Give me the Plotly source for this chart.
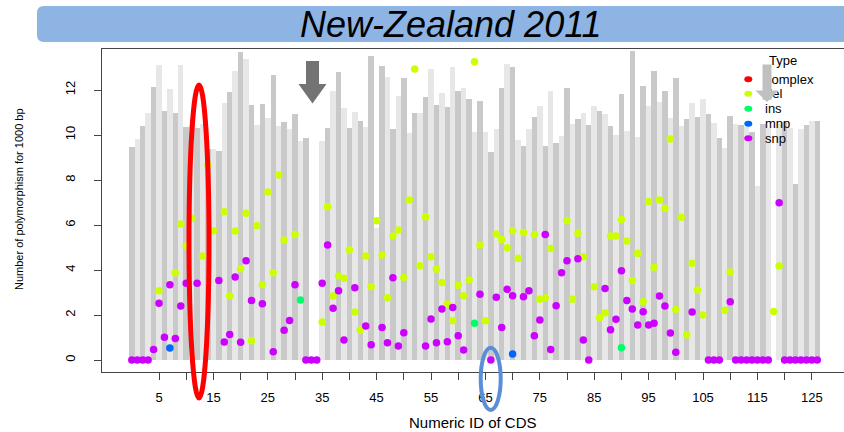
import plotly.graph_objects as go

# ---------------- data ----------------
bar_height = [
    9.45, 9.82, 10.41, 11.0, 12.15, 13.1, 11.07, 12.03, 10.96, 13.1,
    10.37, 10.45, 10.33, 10.5, 9.4, 9.36, 9.29, 11.44, 11.93, 12.84,
    13.67, 13.36, 11.32, 10.44, 11.38, 10.74, 12.65, 10.4, 10.59, 10.25,
    10.92, 9.73, 9.85, 0, 0, 9.75, 10.3, 11.97, 12.79, 11.19,
    10.3, 11.01, 10.64, 10.34, 13.52, 5.87, 13.08, 12.59, 10.25, 11.75,
    12.52, 10.07, 10.99, 10.99, 11.7, 12.92, 11.33, 11.85, 11.26, 13.04,
    11.96, 12.07, 11.59, 10.15, 11.51, 10.15, 9.26, 10.27, 12.1, 13.16,
    13.01, 9.8, 9.5, 10.27, 10.79, 11.3, 9.5, 11.96, 9.66, 9.97,
    12.07, 10.5, 10.72, 10.99, 10.44, 11.29, 11.07, 10.93, 10.4, 9.99,
    11.82, 10.19, 13.73, 9.9, 12.18, 11.3, 12.86, 11.48, 11.97, 10.77,
    12.52, 10.4, 10.71, 11.44, 10.79, 11.59, 10.93, 10.55, 9.85, 9.41,
    10.86, 10.49, 10.44, 10.34, 10.15, 7.73, 10.47, 10.3, 0, 10.5,
    10.59, 10.3, 7.82, 10.25, 10.44, 10.62, 10.62,
]
cds_id = list(range(len(bar_height)))

del_x = [5, 8, 9, 10, 11, 13, 14, 15, 17, 18, 19, 20, 21, 22, 23, 24, 25, 26, 27, 28,
         30, 35, 36, 37, 38, 39, 40, 41, 42, 43, 44, 45, 46, 47, 48, 49, 50, 51, 52, 53,
         54, 55, 56, 57, 58, 59, 60, 61, 62, 63, 64, 65, 67, 68, 69, 70, 71, 72, 74, 75,
         76, 77, 80, 81, 82, 83, 85, 86, 87, 88, 89, 90, 91, 92, 93, 94, 95, 96, 97, 98,
         99, 100, 101, 102, 103, 104, 105, 109, 110, 118, 119]
del_y = [3.08, 3.88, 6.04, 5.07, 6.3, 4.62, 8.67, 5.75, 6.59, 2.84, 5.73, 4.06, 6.52, 0.86, 5.97, 3.35, 7.47, 3.88, 8.22, 5.33,
         5.58, 1.69, 6.81, 2.84, 3.73, 3.63, 4.89, 2.13, 1.33, 4.62, 3.26, 6.19, 4.67, 2.77, 5.51, 5.78, 3.67, 7.11, 12.93, 4.19,
         6.37, 4.59, 4.03, 3.44, 2.49, 1.75, 3.32, 2.86, 3.56, 13.26, 5.11, 1.75, 5.6, 5.36, 4.99, 5.75, 4.52, 5.67, 5.58, 2.7,
         2.77, 4.96, 6.19, 2.7, 5.63, 4.59, 3.26, 1.88, 2.1, 5.51, 5.51, 6.25, 5.29, 3.53, 4.74, 2.59, 7.04, 4.12, 7.11, 6.74,
         9.82, 2.25, 6.34, 1.11, 4.3, 3.11, 2.0, 2.21, 3.91, 2.16, 4.18]

snp_x = [0, 1, 2, 3, 4, 5, 6, 7, 8, 9, 10, 12, 16, 17, 18, 19, 20, 21, 22, 24,
         26, 28, 29, 30, 32, 33, 34, 35, 36, 37, 38, 39, 41, 43, 44, 46, 47, 48, 49, 50,
         54, 55, 56, 57, 58, 59, 60, 61, 64, 66, 67, 68, 69, 70, 72, 73, 74, 75, 76, 77,
         78, 79, 80, 82, 83, 84, 87, 88, 89, 90, 91, 92, 93, 94, 95, 96, 97, 98, 99, 100,
         103, 106, 107, 108, 110, 111, 112, 113, 114, 115, 116, 117, 119, 120, 121, 122, 123, 124, 125, 126]
snp_y = [0, 0, 0, 0, 0.47, 2.52, 1.01, 3.35, 0.96, 2.4, 3.41, 3.41, 3.53, 0.8, 1.13, 3.69, 0.79, 4.41, 2.64, 2.5,
         0.37, 1.32, 1.76, 3.35, 0, 0, 0, 3.41, 5.11, 2.3, 3.08, 0.89, 3.21, 1.51, 0.68, 1.44, 0.77, 3.66, 0.62, 1.21,
         0.62, 1.82, 0.77, 2.27, 0.81, 2.33, 1.08, 0.44, 2.92, 0, 2.79, 1.45, 3.14, 2.86, 2.81, 3.08, 1.08, 1.78, 5.58, 0.47,
         2.41, 3.88, 4.41, 4.5, 0.89, 0, 3.18, 1.35, 1.81, 3.97, 2.64, 2.27, 1.56, 2.15, 1.56, 1.63, 2.84, 2.4, 1.2, 0.34,
         2.13, 0, 0, 0, 2.59, 0, 0, 0, 0, 0, 0, 0, 6.99, 0, 0, 0, 0, 0, 0, 0]

ins_x = [31, 63, 90]
ins_y = [2.67, 1.63, 0.55]

mnp_x = [7, 70]
mnp_y = [0.53, 0.27]

type_names = ["complex", "del", "ins", "mnp", "snp"]
type_colors = ["#FF0000", "#CCFF00", "#00FF66", "#0066FF", "#CC00FF"]

x_tick_vals = list(range(5, 126, 5))
x_tick_text = [str(v) if (v - 5) % 10 == 0 else "" for v in x_tick_vals]
y_tick_vals = [0, 2, 4, 6, 8, 10, 12]

# ---------------- layout helpers (pixel -> paper) ----------------
W, H = 844, 432
L, R, T, B = 102, 844, 49, 372


def px(x):
    return (x - L) / (R - L)


def py(y):
    return (B - y) / (B - T)


FONT = "Liberation Sans, Arial, sans-serif"

fig = go.Figure()

bar_shade = ["#C9C9C9" if i % 2 == 0 else "#E7E7E7" for i in cds_id]
fig.add_trace(go.Bar(x=cds_id, y=bar_height, width=1.0,
                     marker=dict(color=bar_shade, line=dict(width=0)),
                     showlegend=False, hoverinfo="skip"))

for name, xs, ys in [("del", del_x, del_y), ("snp", snp_x, snp_y),
                     ("ins", ins_x, ins_y), ("mnp", mnp_x, mnp_y)]:
    col = type_colors[type_names.index(name)]
    fig.add_trace(go.Scatter(x=xs, y=ys, mode="markers", name=name,
                             marker=dict(color=col, size=7.5, line=dict(width=0)),
                             showlegend=False))

shapes = []
annotations = []

# title banner (rounded rectangle)
x0, x1 = px(37), px(870)
yt, yb = py(6), py(42)
rx, ry = 7 / (R - L), 7 / (B - T)
banner = (f"M {x0+rx},{yt} L {x1},{yt} L {x1},{yb} L {x0+rx},{yb} "
          f"Q {x0},{yb} {x0},{yb+ry} L {x0},{yt-ry} Q {x0},{yt} {x0+rx},{yt} Z")
shapes.append(dict(type="path", xref="paper", yref="paper", path=banner,
                   fillcolor="#8DB4E2", line=dict(width=0), layer="above"))
annotations.append(dict(xref="paper", yref="paper", x=px(451), y=py(24),
                        text="<i>New-Zealand 2011</i>", showarrow=False,
                        font=dict(family=FONT, size=36, color="black"),
                        xanchor="center", yanchor="middle"))

# dark grey arrow
ap = [(306, 61), (319, 61), (319, 84), (326.5, 84), (312.5, 103.5), (298.5, 84), (306, 84)]
path = "M " + " L ".join(f"{px(a)},{py(b)}" for a, b in ap) + " Z"
shapes.append(dict(type="path", xref="paper", yref="paper", path=path,
                   fillcolor="#737373", line=dict(width=0), layer="above"))

# red ellipse
shapes.append(dict(type="circle", xref="paper", yref="paper",
                   x0=px(189), x1=px(209), y0=py(398), y1=py(85),
                   line=dict(color="#FF0000", width=5), layer="above"))
# blue ellipse
shapes.append(dict(type="circle", xref="paper", yref="paper",
                   x0=px(480.7), x1=px(500.7), y0=py(410), y1=py(347.7),
                   line=dict(color="#5A8FD8", width=4), layer="above"))

# manual legend
annotations.append(dict(xref="paper", yref="paper", x=px(767), y=py(61),
                        text="Type", showarrow=False, xanchor="left", yanchor="middle",
                        font=dict(family=FONT, size=13, color="black")))
leg_y = [79.3, 93.8, 108.8, 123.8, 138.3]
for nm, col, yy in zip(type_names, type_colors, leg_y):
    shapes.append(dict(type="circle", xref="paper", yref="paper",
                       x0=px(744.3), x1=px(752.3), y0=py(yy + 3), y1=py(yy - 3),
                       fillcolor=col, line=dict(width=0), layer="above"))
    annotations.append(dict(xref="paper", yref="paper", x=px(764), y=py(yy),
                            text=nm, showarrow=False, xanchor="left", yanchor="middle",
                            borderpad=0,
                            font=dict(family=FONT, size=13, color="black")))

# light grey arrow drawn over the legend
annotations.append(dict(xref="paper", yref="paper", x=px(767), y=py(102),
                        ax=0, ay=-39, text="", showarrow=True,
                        arrowhead=1, arrowwidth=9, arrowsize=0.43,
                        arrowcolor="#C0C0C0"))

# axis titles
annotations.append(dict(xref="paper", yref="paper", x=px(19), y=py(199),
                        text="Number of polymorphism for 1000 bp", textangle=-90,
                        showarrow=False, xanchor="center", yanchor="middle",
                        font=dict(family=FONT, size=11, color="black")))
annotations.append(dict(xref="paper", yref="paper", x=px(473), y=py(422),
                        text="Numeric ID of CDS", showarrow=False,
                        xanchor="center", yanchor="middle",
                        font=dict(family=FONT, size=15, color="black")))

fig.update_layout(
    width=W, height=H, autosize=False,
    margin=dict(l=L, r=W - R, t=T, b=H - B, pad=0),
    paper_bgcolor="white", plot_bgcolor="white",
    bargap=0, showlegend=False,
    shapes=shapes, annotations=annotations,
    font=dict(family=FONT, color="black"),
)
fig.update_xaxes(range=[(L - 131.8) / 5.44, (R - 131.8) / 5.44],
                 tickvals=x_tick_vals, ticktext=x_tick_text,
                 ticks="outside", ticklen=7, tickcolor="#444", tickwidth=1,
                 showline=True, linecolor="#444", linewidth=1, mirror=True,
                 showgrid=False, zeroline=False,
                 tickfont=dict(family=FONT, size=13, color="black"),
                 ticklabelstandoff=6)
fig.update_yaxes(range=[-0.533, 13.822], tickvals=y_tick_vals,
                 ticks="outside", ticklen=7, tickcolor="#444", tickwidth=1,
                 showline=True, linecolor="#444", linewidth=1,
                 showgrid=False, zeroline=False, tickangle=-90,
                 tickfont=dict(family=FONT, size=13, color="black"),
                 ticklabelstandoff=14)

fig.write_html("out.html")
